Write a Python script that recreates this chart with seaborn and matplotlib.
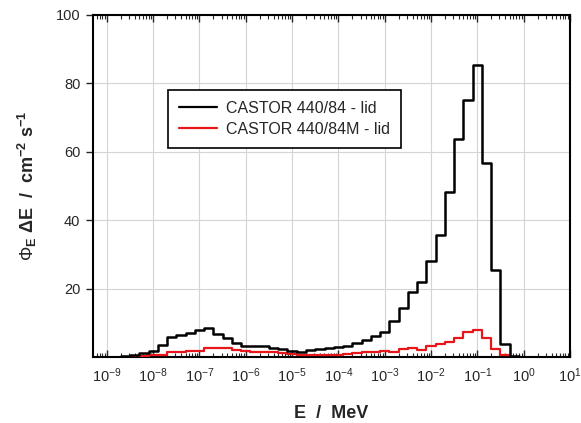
import numpy as np
import pandas as pd
import matplotlib
matplotlib.use('Agg')
import matplotlib.pyplot as plt
import matplotlib.ticker as mticker
import seaborn as sns

# bin centres (log10 of E / MeV), 5 bins per decade
black_logE = [-8.8, -8.6, -8.4, -8.2, -8.0, -7.8, -7.6, -7.4, -7.2, -7.0,
              -6.8, -6.6, -6.4, -6.2, -6.0, -5.8, -5.6, -5.4, -5.2, -5.0,
              -4.8, -4.6, -4.4, -4.2, -4.0, -3.8, -3.6, -3.4, -3.2, -3.0,
              -2.8, -2.6, -2.4, -2.2, -2.0, -1.8, -1.6, -1.4, -1.2, -1.0,
              -0.8, -0.6, -0.4, -0.2]
black_flux = [0.1, 0.3, 0.7, 1.2, 1.9, 3.5, 5.9, 6.3, 7.0, 7.9,
              8.4, 6.7, 5.5, 4.0, 3.1, 3.3, 3.1, 2.7, 2.2, 1.8,
              1.5, 2.1, 2.4, 2.6, 2.8, 3.3, 4.0, 5.0, 6.0, 7.4,
              10.4, 14.2, 19.0, 21.8, 28.2, 35.8, 48.2, 63.6, 75.2, 85.2,
              56.8, 25.3, 3.9, 0.3]

red_logE = [-8.6, -8.4, -8.2, -8.0, -7.8, -7.6, -7.4, -7.2, -7.0,
            -6.8, -6.6, -6.4, -6.2, -6.0, -5.8, -5.6, -5.4, -5.2, -5.0,
            -4.8, -4.6, -4.4, -4.2, -4.0, -3.8, -3.6, -3.4, -3.2, -3.0,
            -2.8, -2.6, -2.4, -2.2, -2.0, -1.8, -1.6, -1.4, -1.2, -1.0,
            -0.8, -0.6, -0.4]
red_flux = [0.1, 0.3, 0.4, 0.6, 0.5, 1.4, 1.4, 1.9, 1.9,
            2.5, 2.7, 2.5, 2.1, 1.8, 1.4, 1.6, 1.4, 1.2, 0.9,
            0.7, 0.7, 0.6, 0.6, 0.7, 0.9, 1.2, 1.6, 1.5, 1.7,
            1.6, 2.4, 2.7, 2.1, 3.1, 3.8, 4.3, 5.5, 7.2, 8.0,
            5.5, 2.4, 0.6]

labels = ['CASTOR 440/84 - lid', 'CASTOR 440/84M - lid']
xtick_exps = list(range(-9, 2))
ytick_vals = [20, 40, 60, 80, 100]


def step_frame(logE, flux, name):
    # turn bin centres into edges for a steps-post line
    logE = np.array(logE)
    edges = np.append(logE - 0.1, logE[-1] + 0.1)
    vals = np.append(flux, flux[-1])
    return pd.DataFrame({'E': 10 ** edges, 'flux': vals, 'series': name})


sns.set_style('ticks')
plt.rcParams['font.family'] = ['Liberation Sans', 'DejaVu Sans']
plt.rcParams['mathtext.fontset'] = 'custom'
plt.rcParams['mathtext.rm'] = 'Liberation Sans'
plt.rcParams['mathtext.bf'] = 'Liberation Sans:bold'
plt.rcParams['mathtext.it'] = 'Liberation Sans:italic'

fig = plt.figure(figsize=(5.81, 4.23), dpi=100)
ax = fig.add_axes([0.160, 0.156, 0.821, 0.809])

ax.set_xscale('log')
ax.set_xlim(10 ** -9.3, 10 ** 1)
ax.set_ylim(0, 100)

ax.grid(True, which='major', color='#d4d4d4', linewidth=0.8)
ax.set_axisbelow(True)

red_df = step_frame(red_logE, red_flux, labels[1])
black_df = step_frame(black_logE, black_flux, labels[0])

sns.lineplot(data=red_df, x='E', y='flux', ax=ax, color='#e8161b',
             linewidth=1.6, drawstyle='steps-post', label=labels[1],
             zorder=3)
sns.lineplot(data=black_df, x='E', y='flux', ax=ax, color='black',
             linewidth=1.8, drawstyle='steps-post', label=labels[0],
             zorder=4)

# ticks
ax.set_xticks([10.0 ** k for k in xtick_exps])
ax.set_xticklabels([f'10$^{{{k}}}$' for k in xtick_exps], fontsize=10.5)
ax.xaxis.set_minor_locator(mticker.LogLocator(base=10, subs=np.arange(2, 10), numticks=30))
ax.xaxis.set_minor_formatter(mticker.NullFormatter())
ax.tick_params(axis='x', which='major', direction='in', length=5, width=1,
               top=True, pad=7)
ax.tick_params(axis='x', which='minor', direction='in', length=3, width=0.8,
               top=True)
ax.set_yticks(ytick_vals)
ax.set_yticklabels([str(v) for v in ytick_vals], fontsize=10.5)
ax.tick_params(axis='y', which='major', direction='out', length=5, width=1,
               right=False, pad=4)

for sp in ax.spines.values():
    sp.set_linewidth(1.5)
    sp.set_color('black')

ax.set_xlabel('E  /  MeV', fontsize=13, fontweight='bold', labelpad=14)
ax.set_ylabel(r'$\Phi_{\mathbf{E}}\ \mathbf{\Delta E}$  /  $\mathbf{cm^{-2}\ s^{-1}}$',
              fontsize=13, fontweight='bold', labelpad=12)

handles, labs = ax.get_legend_handles_labels()
order = [labs.index(labels[0]), labs.index(labels[1])]
leg = ax.legend([handles[i] for i in order], [labs[i] for i in order],
                loc='upper left', bbox_to_anchor=(0.157, 0.781),
                fontsize=11.5, frameon=True, fancybox=False, framealpha=1,
                edgecolor='black', handlelength=2.4, handletextpad=0.55,
                labelspacing=0.35, borderpad=0.7, borderaxespad=0)
leg.get_frame().set_linewidth(1.2)
for line in leg.get_lines():
    line.set_linewidth(1.6)

fig.savefig('out.png', dpi=100)
